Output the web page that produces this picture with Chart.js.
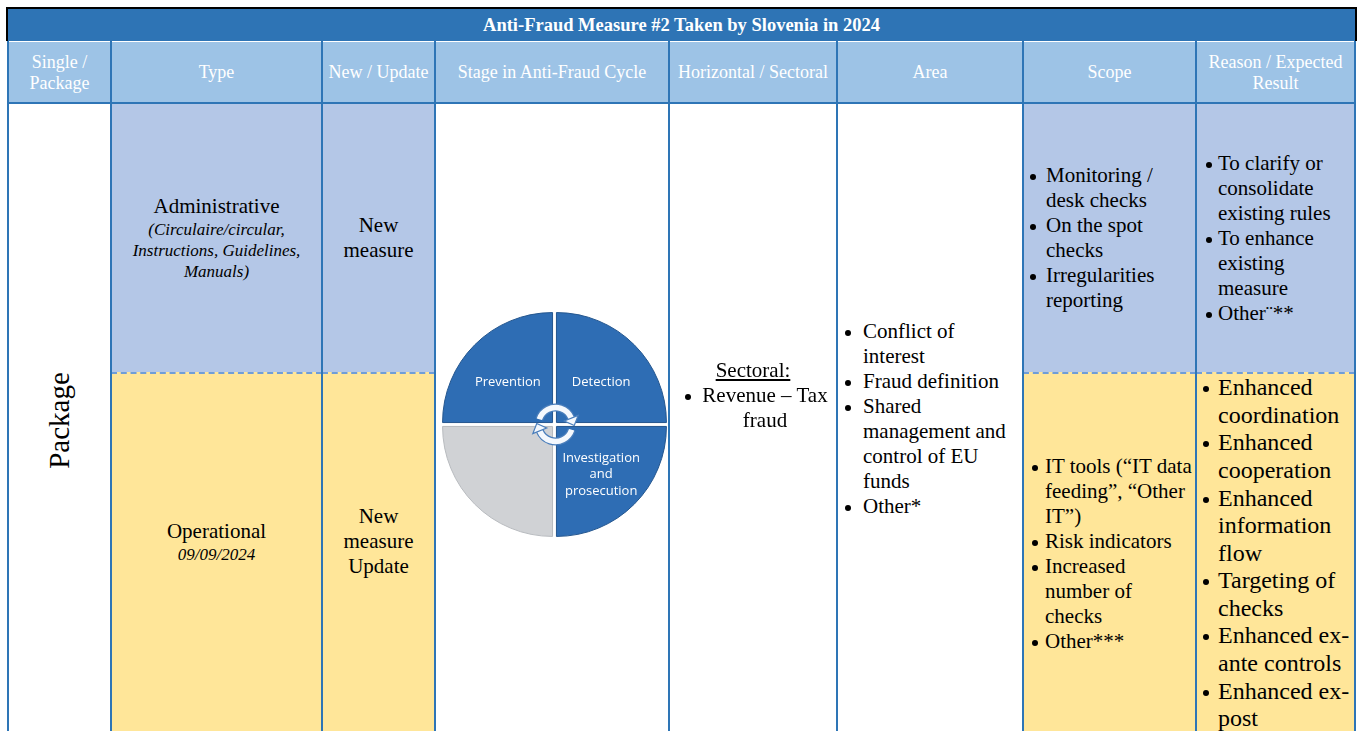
<!DOCTYPE html>
<html>
<head>
<meta charset="utf-8">
<title>Anti-Fraud Measure #2 Taken by Slovenia in 2024</title>
<script src="https://cdn.jsdelivr.net/npm/chart.js@4.4.1/dist/chart.umd.min.js"></script>
<style>
  html, body { margin: 0; padding: 0; background: #fff; }
  body { width: 1362px; height: 731px; overflow: hidden; position: relative;
         font-family: "Liberation Serif", "Times New Roman", serif; color: #000; }
  .title { position: absolute; left: 6px; top: 7px; width: 1347px; height: 32px;
           background: #2E74B5; border: 2px solid #000; border-bottom: none;
           color: #fff; font-weight: bold; font-size: 18.5px;
           display: flex; align-items: center; justify-content: center; }
  .head { position: absolute; top: 42px; height: 61px; background: #9DC3E6; color: #fff;
          font-size: 18px; line-height: 21px; text-align: center;
          display: flex; align-items: center; justify-content: center; }
  .blue { position: absolute; top: 104px; height: 268px; background: #B4C7E7; }
  .yellow { position: absolute; top: 372px; height: 370px; background: #FFE699;
            border-top: 2px dashed #6F9DD8; box-sizing: border-box; }
  .vl { position: absolute; top: 41px; height: 700px; width: 2px; background: #2E75B6; z-index: 5; }
  .hl { position: absolute; left: 7px; width: 1349px; height: 2px; background: #2E75B6; z-index: 5; }
  .cell { position: absolute; display: flex; flex-direction: column; justify-content: center;
          white-space: nowrap; z-index: 3; }
  .mid { align-items: center; text-align: center; }
  .t21 { font-size: 21px; line-height: 25px; }
  .i17 { font-size: 17px; line-height: 21px; font-style: italic; }
  .li { position: relative; }
  .li::before { content: ""; position: absolute; left: 1px; top: 11px; width: 6px; height: 6px;
                border-radius: 50%; background: #000; }
  .big .li::before { top: 12px; }
  #pie { position: absolute; left: 437px; top: 307px; width: 235px; height: 235px; z-index: 2; }
</style>
</head>
<body>

<div class="title">Anti-Fraud Measure #2 Taken by Slovenia in 2024</div>

<div class="head" style="left:8px;width:103px">Single /<br>Package</div>
<div class="head" style="left:111px;width:211px">Type</div>
<div class="head" style="left:322px;width:113px">New / Update</div>
<div class="head" style="left:435px;width:234px">Stage in Anti-Fraud Cycle</div>
<div class="head" style="left:669px;width:168px">Horizontal / Sectoral</div>
<div class="head" style="left:837px;width:186px">Area</div>
<div class="head" style="left:1023px;width:173px">Scope</div>
<div class="head" style="left:1196px;width:159px">Reason / Expected<br>Result</div>

<div class="blue" style="left:111px;width:211px"></div>
<div class="blue" style="left:322px;width:113px"></div>
<div class="blue" style="left:1023px;width:173px"></div>
<div class="blue" style="left:1196px;width:159px"></div>
<div class="yellow" style="left:111px;width:211px"></div>
<div class="yellow" style="left:322px;width:113px"></div>
<div class="yellow" style="left:1023px;width:173px"></div>
<div class="yellow" style="left:1196px;width:159px"></div>

<div class="vl" style="left:7px"></div>
<div class="vl" style="left:110px"></div>
<div class="vl" style="left:321px"></div>
<div class="vl" style="left:434px"></div>
<div class="vl" style="left:668px"></div>
<div class="vl" style="left:836px"></div>
<div class="vl" style="left:1022px"></div>
<div class="vl" style="left:1195px"></div>
<div class="vl" style="left:1354px"></div>
<div class="hl" style="top:102px"></div>

<!-- Single / Package -->
<div class="cell mid" style="left:8px;width:103px;top:104px;height:632px">
  <div style="font-size:29px;transform:rotate(-90deg)">Package</div>
</div>

<!-- Type -->
<div class="cell mid" style="left:111px;width:211px;top:104px;height:268px">
  <div class="t21">Administrative</div>
  <div class="i17">(Circulaire/circular,<br>Instructions, Guidelines,<br>Manuals)</div>
</div>
<div class="cell mid" style="left:111px;width:211px;top:374px;height:335px">
  <div class="t21">Operational</div>
  <div class="i17">09/09/2024</div>
</div>

<!-- New / Update -->
<div class="cell mid t21" style="left:322px;width:113px;top:104px;height:268px">New<br>measure</div>
<div class="cell mid t21" style="left:322px;width:113px;top:374px;height:335px">New<br>measure<br>Update</div>

<!-- Stage in Anti-Fraud Cycle -->
<div id="pie"><canvas id="stageChart"></canvas></div>

<!-- Horizontal / Sectoral -->
<div class="cell t21" style="left:669px;width:168px;top:104px;height:583px">
  <div style="text-align:center"><span style="text-decoration:underline">Sectoral:</span></div>
  <div class="li" style="margin-left:15px;padding-left:17px;width:128px;text-align:center">Revenue – Tax<br>fraud</div>
</div>

<!-- Area -->
<div class="cell t21" style="left:844px;width:180px;top:104px;height:630px">
  <div class="li" style="padding-left:19px">Conflict of<br>interest</div>
  <div class="li" style="padding-left:19px">Fraud definition</div>
  <div class="li" style="padding-left:19px">Shared<br>management and<br>control of EU<br>funds</div>
  <div class="li" style="padding-left:19px">Other*</div>
</div>

<!-- Scope -->
<div class="cell t21" style="left:1029px;width:167px;top:104px;height:268px">
  <div class="li" style="padding-left:17px">Monitoring /<br>desk checks</div>
  <div class="li" style="padding-left:17px">On the spot<br>checks</div>
  <div class="li" style="padding-left:17px">Irregularities<br>reporting</div>
</div>
<div class="cell t21" style="left:1031px;width:165px;top:374px;height:359px">
  <div class="li" style="padding-left:14px">IT tools (“IT data<br>feeding”, “Other<br>IT”)</div>
  <div class="li" style="padding-left:14px">Risk indicators</div>
  <div class="li" style="padding-left:14px">Increased<br>number of<br>checks</div>
  <div class="li" style="padding-left:14px">Other***</div>
</div>

<!-- Reason / Expected Result -->
<div class="cell t21" style="left:1205px;width:150px;top:104px;height:268px">
  <div class="li" style="padding-left:13px">To clarify or<br>consolidate<br>existing rules</div>
  <div class="li" style="padding-left:13px">To enhance<br>existing<br>measure</div>
  <div class="li" style="padding-left:13px">Other¨**</div>
</div>
<div class="cell big" style="left:1202px;width:153px;top:374px;height:359px;font-size:24px;line-height:27.6px">
  <div class="li" style="padding-left:16px">Enhanced<br>coordination</div>
  <div class="li" style="padding-left:16px">Enhanced<br>cooperation</div>
  <div class="li" style="padding-left:16px">Enhanced<br>information<br>flow</div>
  <div class="li" style="padding-left:16px">Targeting of<br>checks</div>
  <div class="li" style="padding-left:16px">Enhanced ex-<br>ante controls</div>
  <div class="li" style="padding-left:16px">Enhanced ex-<br>post</div>
</div>

<script>
// Stages of the anti-fraud cycle, clockwise from 12 o'clock
const stageLabels = ['Detection', ['Investigation', 'and', 'prosecution'], '', 'Prevention'];
const stageShares = [1, 1, 1, 1];
const stageColors = ['#2E6DB4', '#2E6DB4', '#D0D2D5', '#2E6DB4'];

function cycleArrow(ctx, cx, cy, R, a0, a1) {
    ctx.beginPath();
    ctx.arc(cx, cy, R, a0, a1);
    ctx.strokeStyle = '#4A7EBB';
    ctx.lineWidth = 8;
    ctx.stroke();
    ctx.strokeStyle = '#F4F8FD';
    ctx.lineWidth = 5.5;
    ctx.stroke();
    // arrow head pointing along the clockwise tangent
    const px = cx + R * Math.cos(a1), py = cy + R * Math.sin(a1);
    const tx = -Math.sin(a1), ty = Math.cos(a1);
    const nx = Math.cos(a1), ny = Math.sin(a1);
    ctx.beginPath();
    ctx.moveTo(px + nx * 7.5, py + ny * 7.5);
    ctx.lineTo(px + tx * 8, py + ty * 8);
    ctx.lineTo(px - nx * 7.5, py - ny * 7.5);
    ctx.closePath();
    ctx.fillStyle = '#F4F8FD';
    ctx.fill();
    ctx.strokeStyle = '#4A7EBB';
    ctx.lineWidth = 1.2;
    ctx.stroke();
}

const stageText = {
    id: 'stageText',
    afterDatasetsDraw(chart) {
        const ctx = chart.ctx;
        const meta = chart.getDatasetMeta(0);
        ctx.save();
        ctx.fillStyle = '#fff';
        ctx.font = '13px "Open Sans", sans-serif';
        ctx.textAlign = 'center';
        ctx.textBaseline = 'middle';
        meta.data.forEach((arc, i) => {
            const lines = [].concat(chart.data.labels[i]);
            const p = arc.getProps(['x', 'y', 'startAngle', 'endAngle', 'outerRadius']);
            const mid = (p.startAngle + p.endAngle) / 2;
            const cx = p.x + Math.cos(mid) * p.outerRadius * 0.6;
            const cy = p.y + Math.sin(mid) * p.outerRadius * 0.54 + (lines.length - 1) * 4;
            lines.forEach((t, k) => {
                ctx.fillText(t, cx, cy + (k - (lines.length - 1) / 2) * 16.5);
            });
        });
        // cycle arrows in the middle
        const c = meta.data[0];
        const deg = Math.PI / 180;
        cycleArrow(ctx, c.x + 1, c.y, 17, 198 * deg, 338 * deg);
        cycleArrow(ctx, c.x + 1, c.y, 17, 18 * deg, 158 * deg);
        ctx.restore();
    }
};

new Chart(document.getElementById('stageChart'), {
    type: 'pie',
    data: {
        labels: stageLabels,
        datasets: [{
            data: stageShares,
            backgroundColor: stageColors,
            borderColor: ['#24568E', '#24568E', '#B8BBBF', '#24568E'],
            borderWidth: 1,
            offset: 11
        }]
    },
    options: {
        responsive: true,
        maintainAspectRatio: false,
        animation: false,
        events: [],
        radius: 110,
        layout: { padding: 0 },
        plugins: {
            legend: { display: false },
            tooltip: { enabled: false }
        }
    },
    plugins: [stageText]
});
</script>
</body>
</html>
